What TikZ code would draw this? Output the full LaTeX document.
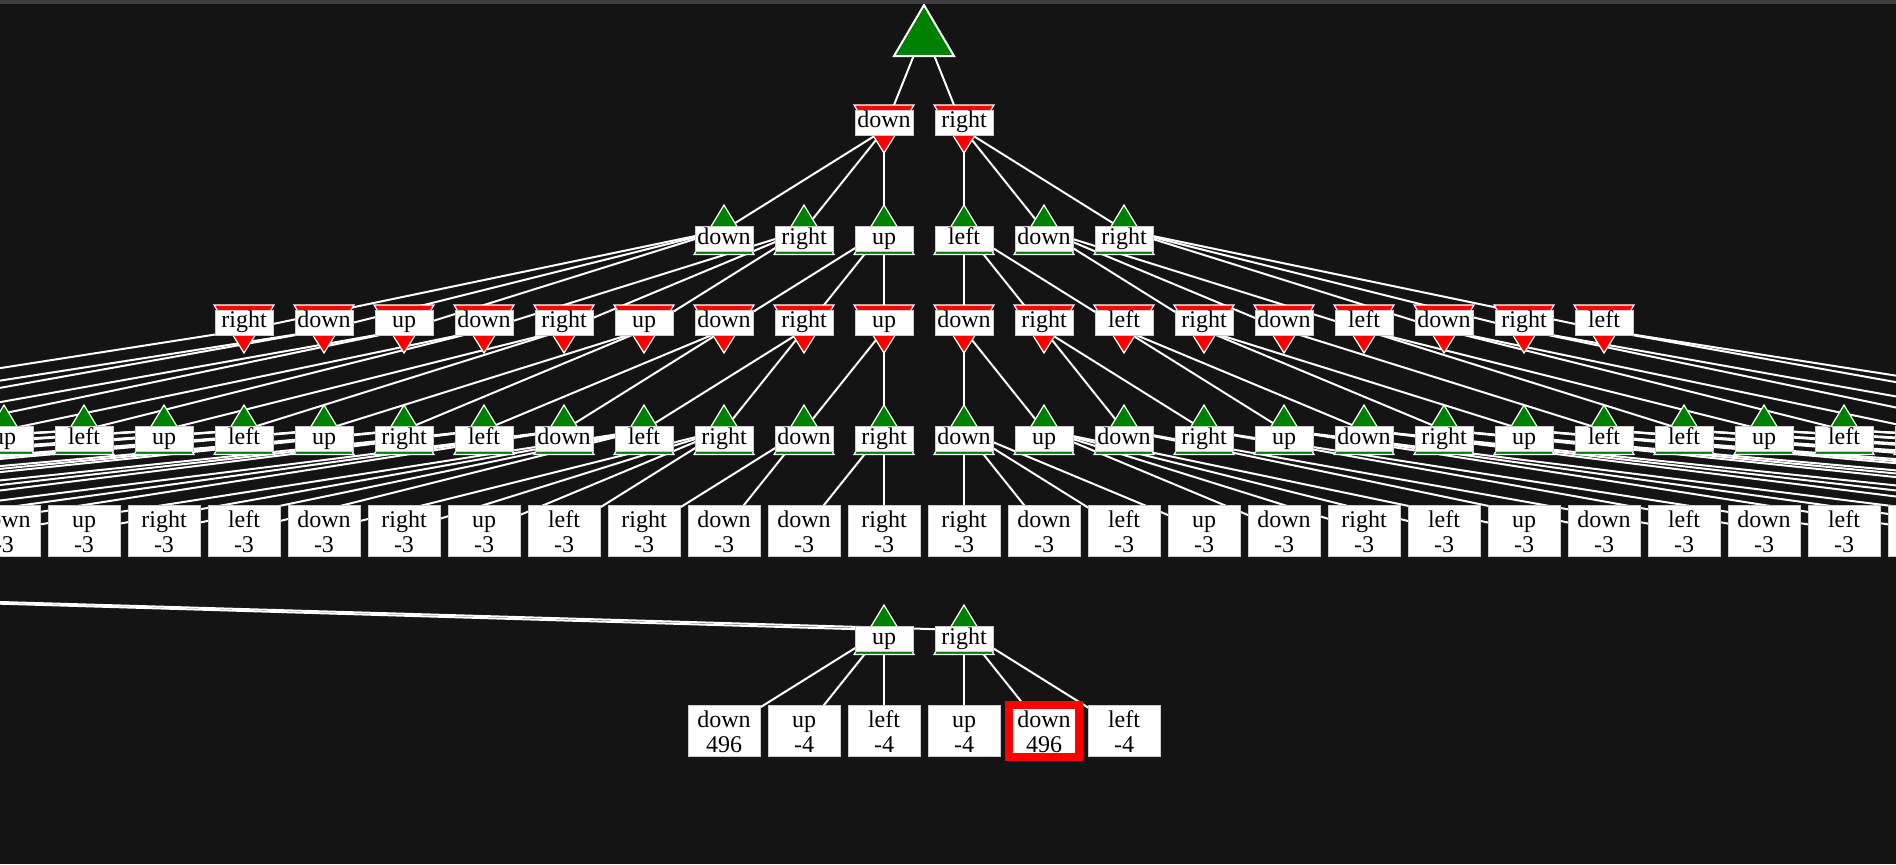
\documentclass[tikz,border=0pt]{standalone}
\usepackage{fontspec}
\setmainfont{Liberation Serif}
\definecolor{bgc}{RGB}{20,20,20}
\definecolor{topc}{RGB}{62,62,62}
\definecolor{pgreen}{RGB}{0,128,0}
\definecolor{pred}{RGB}{255,0,0}
\definecolor{boxline}{RGB}{205,205,205}
\newcommand\MinN[4]{%
  \filldraw[tri, fill=pred] ({#2-30},{#3-25}) -- ({#2+30},{#3-25}) -- ({#2},{#3+23}) -- cycle;
  \node[minbox] (#1) at ({#2},{#3-7.5}) {};
  \node[lbl] (#1-t) at ({#2},{#3-2.25}) {#4};
}
\newcommand\MaxN[4]{%
  \filldraw[tri, fill=pgreen] ({#2-30},{#3+24.5}) -- ({#2+30},{#3+24.5}) -- ({#2},{#3-25}) -- cycle;
  \node[maxbox] (#1) at ({#2},{#3+8.75}) {};
  \node[lbl] (#1-t) at ({#2},{#3+14.5}) {#4};
}
\newcommand\LeafN[6]{%
  \node[#6] (#1) at ({#2},{#3+0.5}) {};
  \node[lbl] (#1-t) at ({#2},{#3-3}) {#4};
  \node[lbl] (#1-v) at ({#2},{#3+22}) {#5};
}
\begin{document}
\begin{tikzpicture}[x=0.5pt,y=-0.5pt,
  link/.style={draw=white, line width=1pt},
  tri/.style={draw=white, line width=0.6pt, line join=miter},
  roottri/.style={draw=white, line width=1pt, fill=pgreen, line join=miter},
  minbox/.style={rectangle, fill=white, draw=boxline, line width=0.5pt, minimum width=29pt, minimum height=12.5pt, inner sep=0pt},
  maxbox/.style={rectangle, fill=white, draw=boxline, line width=0.5pt, minimum width=29pt, minimum height=12.75pt, inner sep=0pt},
  leafbox/.style={rectangle, fill=white, draw=boxline, line width=0.5pt, minimum width=36pt, minimum height=25.5pt, inner sep=0pt},
  hlbox/.style={rectangle, fill=white, draw=pred, line width=4pt, minimum width=35.4pt, minimum height=26pt, inner sep=0pt},
  lbl/.style={anchor=base, inner sep=0pt, font=\fontsize{12}{12}\selectfont, text=black}]
\useasboundingbox (0,0) rectangle (1896,864);
\fill[bgc] (0,0) rectangle (1896,864);
\fill[topc] (0,0) rectangle (1896,4);
\begin{scope}
\clip (0,4) rectangle (1896,864);
% ---------- positions
\coordinate (r) at (924,30);
\foreach \n in {0,1} {\coordinate (a\n) at ({884+80*\n},130);}
\foreach \n in {0,...,5} {\coordinate (b\n) at ({724+80*\n},230);}
\foreach \n in {0,...,17} {\coordinate (c\n) at ({244+80*\n},330);}
\foreach \n in {0,...,33} {\coordinate (d\n) at ({80*\n-396},430);}
\foreach \n in {0,...,101} {\coordinate (e\n) at ({80*\n-3116},530);}
\foreach \n in {0,1} {\coordinate (f\n) at ({884+80*\n},630);}
\foreach \n in {0,...,5} {\coordinate (g\n) at ({724+80*\n},730);}
% ---------- connectors
\draw[link] (r) -- (a0);
\draw[link] (r) -- (a1);
\foreach \p in {0,1} {\foreach \q in {0,1,2} {\pgfmathtruncatemacro\k{3*\p+\q}\draw[link] (a\p) -- (b\k);}}
\foreach \p in {0,...,5} {\foreach \q in {0,1,2} {\pgfmathtruncatemacro\k{3*\p+\q}\draw[link] (b\p) -- (c\k);}}
\foreach \p/\q in {0/0,1/1,1/2,2/3,2/4,3/5,3/6,4/7,4/8,5/9,5/10,6/11,6/12,7/13,7/14,8/15,8/16,9/17,9/18,10/19,10/20,11/21,11/22,12/23,12/24,13/25,14/26,14/27,15/28,15/29,16/30,16/31,17/32,17/33} {\draw[link] (c\p) -- (d\q);}
\foreach \p in {0,...,12} {\foreach \q in {0,1,2} {\pgfmathtruncatemacro\k{3*\p+\q}\draw[link] (d\p) -- (e\k);}}
\foreach \p in {21,...,33} {\foreach \q in {0,1,2} {\pgfmathtruncatemacro\k{3*\p+\q}\draw[link] (d\p) -- (e\k);}}
\foreach \p/\s/\t in {13/39/42,14/43/46,15/47/48,16/49/50,17/51/54,18/55/58,19/59/60,20/61/62} {\foreach \q in {\s,...,\t} {\draw[link] (d\p) -- (e\q);}}
\draw[link] (e8) -- (f0);
\draw[link] (e8) -- (f1);
\foreach \q in {0,1,2} {\draw[link] (f0) -- (g\q);}
\foreach \q in {3,4,5} {\draw[link] (f1) -- (g\q);}
% ---------- nodes
\filldraw[roottri] (894,56) -- (954,56) -- (924,5) -- cycle;
\MinN{na0}{884}{130}{down}
\MinN{na1}{964}{130}{right}
\foreach \lab [count=\n from 0] in {down,right,up,left,down,right} {\pgfmathsetmacro\xx{724+80*\n}\MaxN{nb\n}{\xx}{230}{\lab}}
\foreach \lab [count=\n from 0] in {right,down,up,down,right,up,down,right,up,down,right,left,right,down,left,down,right,left} {\pgfmathsetmacro\xx{244+80*\n}\MinN{nc\n}{\xx}{330}{\lab}}
\foreach \lab [count=\n from 5] in {up,left,up,left,up,right,left,down,left,right,down,right,down,up,down,right,up,down,right,up,left,left,up,left,down} {\pgfmathsetmacro\xx{80*\n-396}\MaxN{nd\n}{\xx}{430}{\lab}}
\foreach \lab [count=\n from 39] in {down,up,right,left,down,right,up,left,right,down,down,right,right,down,left,up,down,right,left,up,down,left,down,left,up} {\pgfmathsetmacro\xx{80*\n-3116}\LeafN{ne\n}{\xx}{530}{\lab}{-3}{leafbox}}
\MaxN{nf0}{884}{630}{up}
\MaxN{nf1}{964}{630}{right}
\LeafN{ng0}{724}{730}{down}{496}{leafbox}
\LeafN{ng1}{804}{730}{up}{-4}{leafbox}
\LeafN{ng2}{884}{730}{left}{-4}{leafbox}
\LeafN{ng3}{964}{730}{up}{-4}{leafbox}
\LeafN{ng4}{1044}{730}{down}{496}{hlbox}
\LeafN{ng5}{1124}{730}{left}{-4}{leafbox}
\end{scope}
\end{tikzpicture}
\end{document}
